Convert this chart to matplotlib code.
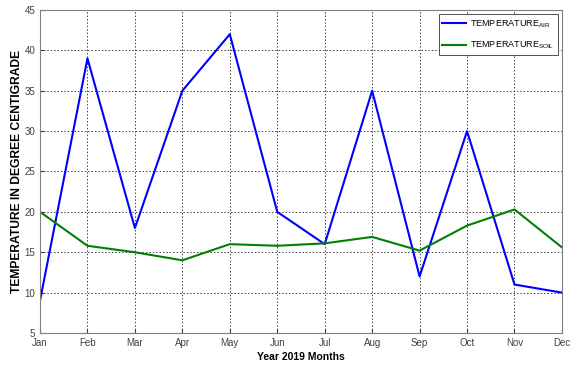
import matplotlib.pyplot as plt

months = ["Jan", "Feb", "Mar", "Apr", "May", "Jun", "Jul", "Aug", "Sep", "Oct", "Nov", "Dec"]
temp_air = [9, 39, 18, 35, 42, 20, 16, 35, 12, 30, 11, 10]
temp_soil = [20, 15.8, 15, 14, 16, 15.8, 16.1, 16.9, 15.2, 18.3, 20.3, 15.6]

plt.rcParams["font.family"] = ["Liberation Sans", "DejaVu Sans"]
plt.rcParams["mathtext.fontset"] = "custom"
plt.rcParams["mathtext.rm"] = "Liberation Sans"

fig = plt.figure(figsize=(5.74, 3.65), dpi=100)
ax = fig.add_axes([0.0697, 0.0877, 0.9093, 0.8849])

x = list(range(len(months)))
ax.plot(x, temp_air, color="#0000ff", linewidth=1.5, label=r"$\mathregular{TEMPERATURE_{AIR}}$")
ax.plot(x, temp_soil, color="#008000", linewidth=1.5, label=r"$\mathregular{TEMPERATURE_{SOIL}}$")

ax.set_xlim(0, 11)
ax.set_ylim(5, 45)
ax.set_xticks(x)
ax.set_xticklabels(months)
ax.set_yticks(range(5, 46, 5))
ax.tick_params(direction="in", labelsize=7, colors="#404040", length=3)
ax.grid(True, linestyle=(0, (1.5, 2)), color="#404040", linewidth=0.7)
for s in ax.spines.values():
    s.set_color("#808080")

ax.set_xlabel("Year 2019 Months", fontsize=7.5, fontweight="bold", labelpad=3)
ax.set_ylabel("TEMPERATURE IN DEGREE CENTIGRADE", fontsize=8.7, fontweight="bold", labelpad=1)

leg = ax.legend(loc="upper right", fontsize=6.5, fancybox=False, framealpha=1,
                edgecolor="#505050", handlelength=2.6, handletextpad=0.5,
                borderaxespad=0.4, labelspacing=1.0)
leg.get_frame().set_linewidth(0.7)

fig.savefig("out.png", dpi=100)
